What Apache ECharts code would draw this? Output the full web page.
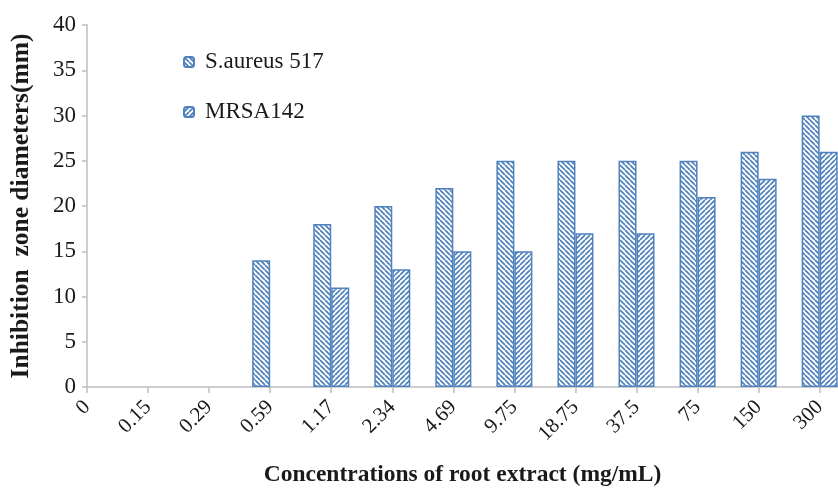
<!DOCTYPE html>
<html>
<head>
<meta charset="utf-8">
<script src="https://cdn.jsdelivr.net/npm/echarts@6/dist/echarts.min.js"></script>
<style>html,body{margin:0;padding:0;background:#fff}#c{width:838px;height:488px}</style>
</head>
<body>
<div id="c"></div>
<script>
const categories = ['0','0.15','0.29','0.59','1.17','2.34','4.69','9.75','18.75','37.5','75','150','300'];
const saureus = [0,0,0,14,18,20,22,25,25,25,25,26,30];
const mrsa = [0,0,0,0,11,13,15,15,17,17,21,23,26];
const yTicks = [0,5,10,15,20,25,30,35,40];

const BLUE = '#4f81bd';
function hatch(dir){
  const s = 5;
  const c = document.createElement('canvas');
  c.width = s; c.height = s;
  const g = c.getContext('2d');
  g.fillStyle = '#fff'; g.fillRect(0,0,s,s);
  g.strokeStyle = BLUE; g.lineWidth = 1.7;
  g.beginPath();
  for (const o of [-s,0,s]) {
    if (dir === 'back') { g.moveTo(o,0); g.lineTo(o+s,s); }
    else { g.moveTo(o,s); g.lineTo(o+s,0); }
  }
  g.stroke();
  return {image: c, repetition: 'repeat'};
}
const toData = arr => arr.map((v,i)=>[i, v === 0 ? null : v]);
const serif = '"Liberation Serif","Times New Roman",serif';

const chart = echarts.init(document.getElementById('c'));
chart.setOption({
  animation:false,
  backgroundColor:'#fff',
  grid:{left:87, right:0, top:25, bottom:101, containLabel:false, outerBoundsMode:'none'},
  legend:{
    orient:'vertical', left:178, top:45, itemWidth:10, itemHeight:10, itemGap:26,
    textStyle:{fontFamily:serif, fontSize:23, lineHeight:24, color:'#1a1a1a', padding:[0,0,0,6]},
    data:['S.aureus 517','MRSA142']
  },
  xAxis:{
    type:'value', min:0, max:12.3, interval:1,
    splitLine:{show:false},
    axisLine:{show:true, onZero:false, lineStyle:{color:'#bfbfbf', width:1.5}},
    axisTick:{show:true, length:6, lineStyle:{color:'#bfbfbf', width:1.5}},
    axisLabel:{
      rotate:45, fontFamily:serif, fontSize:21, color:'#1a1a1a', margin:17,
      showMaxLabel:false,
      formatter: v => Number.isInteger(v) && categories[v] !== undefined ? categories[v] : ''
    },
    name:'Concentrations of root extract (mg/mL)', nameLocation:'middle', nameGap:76,
    nameTextStyle:{fontFamily:serif, fontSize:23.5, fontWeight:'bold', color:'#1a1a1a'}
  },
  yAxis:{
    type:'value', min:yTicks[0], max:yTicks[yTicks.length-1], interval:5,
    splitLine:{show:false},
    axisLine:{show:true, lineStyle:{color:'#bfbfbf', width:1.5}},
    axisTick:{show:true, length:5, lineStyle:{color:'#bfbfbf', width:1.5}},
    axisLabel:{fontFamily:serif, fontSize:23, color:'#1a1a1a', margin:11},
    name:'Inhibition  zone diameters(mm)', nameLocation:'middle', nameGap:53,
    nameTextStyle:{fontFamily:serif, fontSize:25.5, fontWeight:'bold', color:'#1a1a1a'}
  },
  series:[
    {name:'S.aureus 517', type:'bar', barWidth:18, barGap:'0%', clip:false,
     data:toData(saureus),
     itemStyle:{color:hatch('back'), borderColor:BLUE, borderWidth:1.5}},
    {name:'MRSA142', type:'bar', barWidth:18, barGap:'0%', clip:false,
     data:toData(mrsa),
     itemStyle:{color:hatch('fwd'), borderColor:BLUE, borderWidth:1.5}}
  ]
});
</script>
</body>
</html>
